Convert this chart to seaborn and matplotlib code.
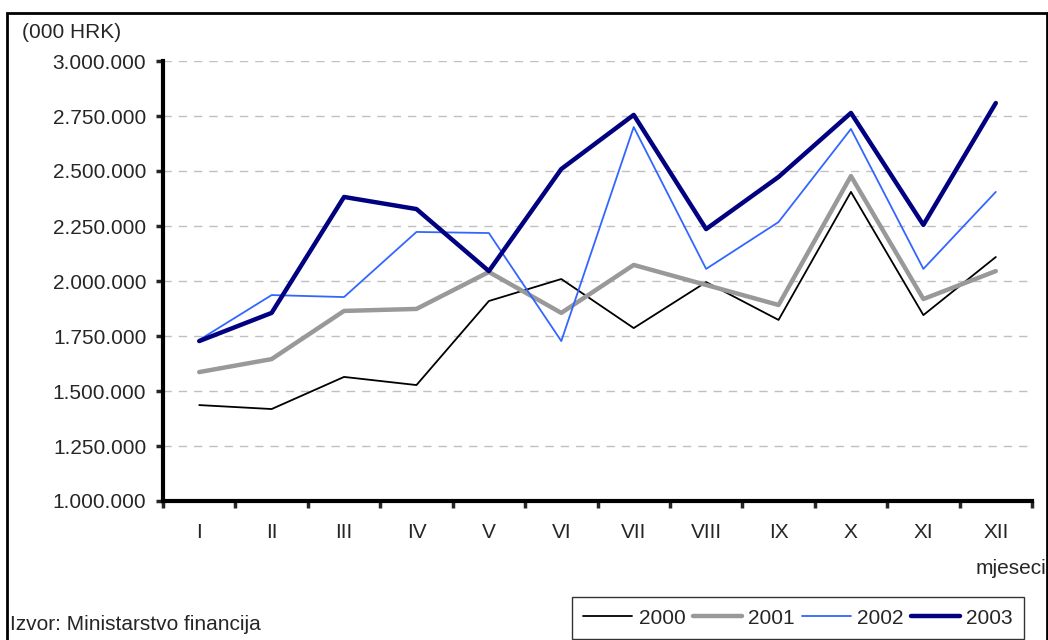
import matplotlib
matplotlib.use("Agg")
import matplotlib.pyplot as plt
from matplotlib.patches import Rectangle
from matplotlib.ticker import FuncFormatter, FixedLocator
import numpy as np
import pandas as pd
import seaborn as sns

months = ["I", "II", "III", "IV", "V", "VI", "VII", "VIII", "IX", "X", "XI", "XII"]
years = ["2000", "2001", "2002", "2003"]
v2000 = [1436000, 1418000, 1564000, 1527000, 1909000, 2009000, 1786000, 1995000, 1823000, 2405000, 1845000, 2109000]
v2001 = [1586000, 1645000, 1864000, 1873000, 2041000, 1855000, 2073000, 1982000, 1891000, 2477000, 1918000, 2045000]
v2002 = [1732000, 1936000, 1927000, 2223000, 2218000, 1727000, 2700000, 2055000, 2268000, 2691000, 2055000, 2405000]
v2003 = [1727000, 1855000, 2382000, 2327000, 2045000, 2509000, 2755000, 2236000, 2473000, 2764000, 2255000, 2809000]
yticks = [1000000, 1250000, 1500000, 1750000, 2000000, 2250000, 2500000, 2750000, 3000000]

series = {"2000": v2000, "2001": v2001, "2002": v2002, "2003": v2003}
rows = []
for y in years:
    for i, v in enumerate(series[y]):
        rows.append({"pos": i, "month": months[i], "year": y, "value": v})
df = pd.DataFrame(rows)

colors = {"2000": "#000000", "2001": "#999999", "2002": "#3366FF", "2003": "#000080"}
widths = {"2000": 1.3, "2001": 3.2, "2002": 1.3, "2003": 3.2}

sns.set_style("white")
plt.rcParams["font.family"] = ["Liberation Sans", "DejaVu Sans"]
FS = 15

W, H = 1048, 640
fig = plt.figure(figsize=(W / 100, H / 100), dpi=100)
ax = fig.add_axes([163 / W, (H - 501) / H, (1032 - 163) / W, (501 - 61) / H])

for y in years:
    sns.lineplot(data=df[df["year"] == y], x="pos", y="value", ax=ax,
                 color=colors[y], linewidth=widths[y], label=y, legend=False,
                 estimator=None, sort=False)

ax.set_xlim(-0.5, 11.5)
ax.set_ylim(1000000, 3000000)
ax.set_xlabel("")
ax.set_ylabel("")

# y axis
ax.yaxis.set_major_locator(FixedLocator(yticks))
ax.yaxis.set_major_formatter(FuncFormatter(lambda v, p: f"{int(v):,}".replace(",", ".")))
ax.tick_params(axis="y", which="major", length=5, width=2.5, pad=7, labelsize=FS, direction="out", left=True)
ax.yaxis.grid(True, color="#C0C0C0", linestyle=(0, (6, 5)), linewidth=1)
ax.xaxis.grid(False)

# x axis: ticks at boundaries, labels at centres
ax.xaxis.set_major_locator(FixedLocator(np.arange(-0.5, 12, 1)))
ax.xaxis.set_major_formatter(FuncFormatter(lambda v, p: ""))
ax.xaxis.set_minor_locator(FixedLocator(np.arange(0, 12, 1)))
ax.xaxis.set_minor_formatter(FuncFormatter(lambda v, p: months[int(round(v))]))
ax.tick_params(axis="x", which="major", length=5, width=2.5, direction="out", bottom=True)
ax.tick_params(axis="x", which="minor", length=0, pad=16, labelsize=FS)

for s in ["top", "right"]:
    ax.spines[s].set_visible(False)
for s in ["left", "bottom"]:
    ax.spines[s].set_linewidth(3)
    ax.spines[s].set_color("black")
ax.set_axisbelow(True)

fig.text(22 / W, 1 - 33 / H, "(000 HRK)", fontsize=FS, ha="left", va="center")
fig.text(1046 / W, 1 - 568 / H, "mjeseci", fontsize=FS, ha="right", va="center")
fig.text(10 / W, 1 - 625 / H, "Izvor: Ministarstvo financija", fontsize=FS, ha="left", va="center")

handles, labels = ax.get_legend_handles_labels()
leg = fig.legend(handles, labels, loc="lower left", bbox_to_anchor=(572 / W, 1 / H),
                 ncol=4, frameon=True, fancybox=False, edgecolor="black", fontsize=FS,
                 handlelength=2.35, handletextpad=0.3, columnspacing=0.35, borderpad=0.55,
                 borderaxespad=0)
leg.get_frame().set_linewidth(1.0)

frame = Rectangle((7 / W, -0.05), (1047 - 7) / W, 1 - 13 / H + 0.05, transform=fig.transFigure,
                  fill=False, edgecolor="black", linewidth=2, clip_on=False)
fig.patches.append(frame)

fig.savefig("out.png", dpi=100)
